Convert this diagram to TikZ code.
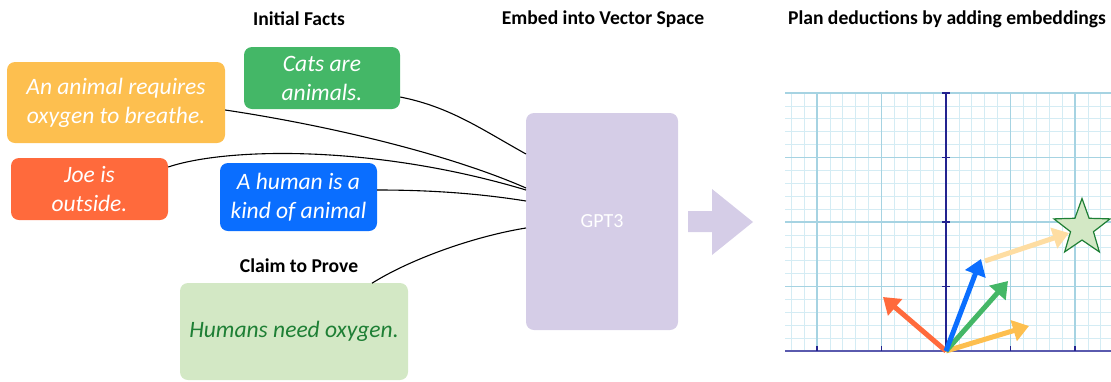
\documentclass[tikz,border=0pt]{standalone}
\usepackage{fontspec}
\setmainfont{Carlito}
\usetikzlibrary{arrows.meta,shapes.geometric}
\definecolor{cyellow}{HTML}{FDBF4F}
\definecolor{cgreen}{HTML}{44B767}
\definecolor{cred}{HTML}{FF6A3C}
\definecolor{cblue}{HTML}{0A6EFF}
\definecolor{cpale}{HTML}{D3E8C5}
\definecolor{cdkgreen}{HTML}{1E7F35}
\definecolor{clav}{HTML}{D5CDE7}
\definecolor{cminor}{HTML}{D4ECF4}
\definecolor{cmajor}{HTML}{A6D3E2}
\definecolor{caxis}{HTML}{23238F}
\definecolor{cxaxis}{HTML}{5A5AAE}
\definecolor{cfade}{HTML}{FEDDA2}
\tikzset{
  fact/.style={rounded corners=8pt, inner sep=0pt, align=center, text=white,
    font=\itshape\fontsize{23.5}{29}\selectfont},
  heading/.style={font=\bfseries\fontsize{19.6}{23}\selectfont, inner sep=0pt},
  link/.style={draw=black, line width=1.1pt},
  vec/.style={line width=5pt, -{Triangle[width=21pt,length=16pt]}},
  minorline/.style={draw=cminor, line width=0.8pt},
  majorline/.style={draw=cmajor, line width=1.2pt},
}
\begin{document}
\begin{tikzpicture}[x=1pt,y=-1pt]
\useasboundingbox (0,0) rectangle (1111,381);

% headings
\node[heading] (h1) at (299,19) {Initial Facts};
\node[heading] (h2) at (603,19) {Embed into Vector Space};
\node[heading] (h3) at (947,19) {Plan deductions by adding embeddings};
\node[heading] (h4) at (299,266) {Claim to Prove};

% fact boxes
\node[fact, fill=cyellow, minimum width=218pt, minimum height=81pt] (oxy) at (116,102.5) {An animal requires\\oxygen to breathe.};
\node[fact, fill=cgreen, minimum width=156pt, minimum height=62pt] (cats) at (322,78) {Cats are\\animals.};
\node[fact, fill=cred, minimum width=157pt, minimum height=62pt] (joe) at (89.5,189) {Joe is\\outside.};
\node[fact, fill=cblue, minimum width=157pt, minimum height=68pt] (human) at (298.5,197) {A human is a\\kind of animal};
\node[fact, fill=cpale, text=cdkgreen, minimum width=228pt, minimum height=97pt] (claim) at (294,331.5) {Humans need oxygen.};

% GPT3 box
\node[rounded corners=8pt, fill=clav, minimum width=152pt, minimum height=217pt, inner sep=0pt,
  text=white, font=\fontsize{20}{24}\selectfont] (gpt) at (602,221.5) {GPT3};

% entry points on the GPT3 box
\coordinate (g1) at (526,154);
\coordinate (g2) at (526,188);
\coordinate (g3) at (526,190);
\coordinate (g4) at (526,201);
\coordinate (g5) at (526,228);
\coordinate (c5) at (372,283.2);

\draw[link] (cats.east |- 0,97) .. controls +(50,10) and +(-45,-25) .. (g1);
\draw[link] (oxy.east |- 0,110) .. controls +(100,15) and +(-80,-35) .. (g2);
\draw[link] (joe.east |- 0,167) .. controls +(60,-20) and +(-150,-45) .. (g3);
\draw[link] (human.east |- 0,190) .. controls +(50,0) and +(-50,-8) .. (g4);
\draw[link] (c5) .. controls +(40,-25) and +(-50,8) .. (g5);

% big arrow
\fill[clav] (688,211) -- (712,211) -- (712,189) -- (753,222) -- (712,255) -- (712,232) -- (688,232) -- cycle;

% grid
\begin{scope}
\clip (785,92) rectangle (1111,351);
\foreach \k in {-13,...,13} {
  \draw[minorline] ({946+\k*12.9},92) -- ({946+\k*12.9},351);
}
\foreach \k in {0,...,21} {
  \draw[minorline] (785,{351-\k*12.9}) -- (1111,{351-\k*12.9});
}
\foreach \k in {-3,...,3} {
  \draw[majorline] ({946+\k*64.5},92) -- ({946+\k*64.5},351);
}
\foreach \k in {1,...,4} {
  \draw[majorline] (785,{351-\k*64.5}) -- (1111,{351-\k*64.5});
}
\end{scope}
% axes
\draw[caxis, line width=1.4pt] (946,351) -- (946,92);
\foreach \k in {1,...,4} {
  \draw[caxis, line width=1.4pt] (942,{351-\k*64.5}) -- (950,{351-\k*64.5});
}
\draw[cxaxis, line width=2pt] (785,351) -- (1111,351);
\foreach \k in {-2,-1,1,2} {
  \draw[caxis, line width=1.2pt] ({946+\k*64.5},346) -- ({946+\k*64.5},351);
}

% vectors
\coordinate (o) at (946,351);
\coordinate (vr) at (883,297);
\coordinate (vb) at (981,259);
\coordinate (vg) at (1008,281);
\coordinate (vy) at (1029,326);
\coordinate (fs) at (985,261);
\coordinate (fe) at (1069,233);
\draw[vec, cfade] (fs) -- (fe);
\draw[vec, cred] (o) -- (vr);
\draw[vec, cyellow] (o) -- (vy);
\draw[vec, cgreen] (o) -- (vg);
\draw[vec, cblue] (o) -- (vb);

% goal star
\node[star, star points=5, star point ratio=2.45, minimum size=59pt, inner sep=0pt,
  fill=cpale, draw=cdkgreen, line width=1.2pt] (goal) at (1082,228) {};
\end{tikzpicture}
\end{document}
